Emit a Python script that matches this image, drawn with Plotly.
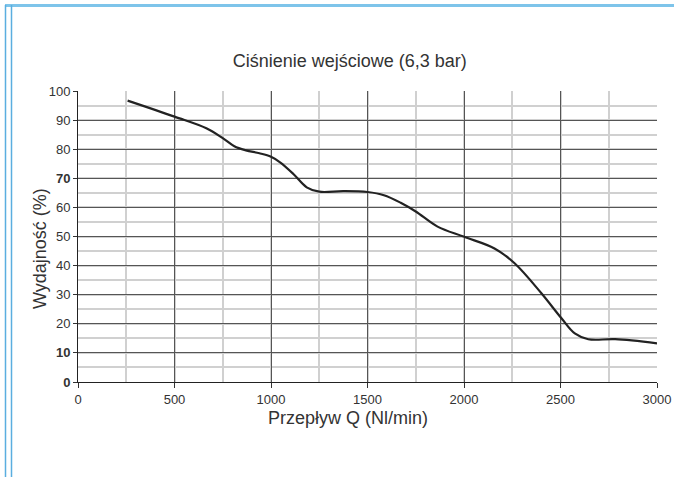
import plotly.graph_objects as go

flow = [257, 500, 665, 750, 810, 870, 940, 1000, 1047, 1116, 1185, 1250, 1376, 1500, 1585, 1672, 1750, 1863, 2001, 2158, 2262, 2401, 2505, 2574, 2644, 2783, 3000]
eff = [96.7, 91.2, 87.2, 83.8, 81.0, 79.6, 78.6, 77.4, 75.5, 71.5, 66.9, 65.4, 65.6, 65.3, 64.2, 61.6, 58.6, 53.4, 49.9, 45.9, 40.8, 30.5, 21.9, 16.7, 14.7, 14.7, 13.3]

y_ticks = [0, 10, 20, 30, 40, 50, 60, 70, 80, 90, 100]
y_labels = ["<b>0</b>", "<b>10</b>", "20", "30", "40", "50", "60", "<b>70</b>", "80", "90", "100"]
x_ticks = [0, 500, 1000, 1500, 2000, 2500, 3000]

title_text = "Ciśnienie wejściowe (6,3 bar)"
x_title = "Przepływ Q (Nl/min)"
y_title = "Wydajność (%)"

fig = go.Figure()
fig.add_trace(go.Scatter(x=flow, y=eff, mode="lines",
                         line=dict(color="#222222", width=2.2, shape="spline", smoothing=1.0),
                         showlegend=False, hoverinfo="skip"))

W, H = 674, 477
L, R, T, B = 78, 17, 91, 95
pw, ph = W - L - R, H - T - B
def px(xp):
    return (xp - L) / pw
def py(yp):
    return (H - B - yp) / ph

font_family = "Liberation Sans, Arial, sans-serif"
fig.update_layout(
    width=W, height=H,
    margin=dict(l=L, r=R, t=T, b=B, autoexpand=False),
    paper_bgcolor="white", plot_bgcolor="white",
    font=dict(family=font_family, color="#333333"),
    title=dict(text=title_text, x=0.519, xanchor="center",
               y=1 - 61 / H, yanchor="middle", font=dict(size=18, color="#333333")),
    xaxis=dict(range=[0, 3000], tickvals=x_ticks, ticks="outside", ticklen=5, tickcolor="#333",
               showline=True, linecolor="#222", linewidth=1,
               showgrid=True, gridcolor="#555555", gridwidth=1,
               minor=dict(dtick=250, tick0=0, showgrid=True, gridcolor="#d0d0d0", gridwidth=1.5),
               tickfont=dict(size=13, color="#333"), zeroline=False, automargin=False),
    yaxis=dict(range=[0, 100], tickvals=y_ticks, ticktext=y_labels, ticks="outside", ticklen=4,
               tickcolor="#333", showline=True, linecolor="#222", linewidth=1,
               showgrid=True, gridcolor="#555555", gridwidth=1,
               minor=dict(dtick=5, tick0=0, showgrid=True, gridcolor="#d0d0d0", gridwidth=1.5),
               tickfont=dict(size=13, color="#333"), zeroline=False, automargin=False),
    annotations=[
        dict(text=x_title, xref="paper", yref="paper", x=px(348), y=py(418),
             xanchor="center", yanchor="middle", showarrow=False, font=dict(size=18, color="#333")),
        dict(text=y_title, xref="paper", yref="paper", x=px(40), y=py(248), textangle=-90,
             xanchor="center", yanchor="middle", showarrow=False, font=dict(size=18, color="#333")),
    ],
)

# decorative page frame lines (blue) seen at the page edges
fig.add_shape(type="line", xref="paper", yref="paper", x0=px(5), x1=px(674), y0=py(5.5), y1=py(5.5),
              line=dict(color="#7ec4ea", width=3))
for xv in (5.5, 11.5):
    fig.add_shape(type="line", xref="paper", yref="paper", x0=px(xv), x1=px(xv), y0=py(5), y1=py(477),
                  line=dict(color="#5aaee0", width=1.5))

fig.write_html("out.html", config={"displayModeBar": False},
               post_script="document.body.style.margin='0px';document.body.style.overflow='hidden';")
